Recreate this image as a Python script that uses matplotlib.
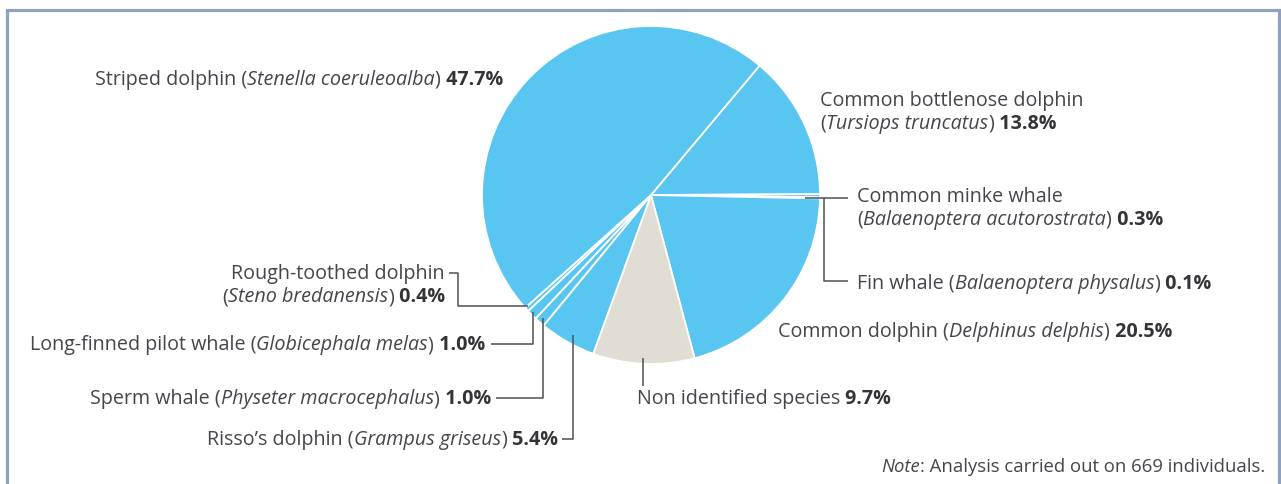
import matplotlib
matplotlib.use("Agg")
import matplotlib.pyplot as plt

W, H = 1281, 484

# species in clockwise order, starting from the bottlenose wedge
species = ["Common bottlenose dolphin", "Common minke whale", "Fin whale",
           "Common dolphin", "Non identified species", "Risso\u2019s dolphin",
           "Sperm whale", "Long-finned pilot whale", "Rough-toothed dolphin",
           "Striped dolphin"]
latin = ["Tursiops truncatus", "Balaenoptera acutorostrata", "Balaenoptera physalus",
         "Delphinus delphis", None, "Grampus griseus", "Physeter macrocephalus",
         "Globicephala melas", "Steno bredanensis", "Stenella coeruleoalba"]
share = [13.8, 0.3, 0.1, 20.5, 9.7, 5.4, 1.0, 1.0, 0.4, 47.7]
n_individuals = 669

BLUE = "#59C5F1"
BEIGE = "#E0DED4"
TXT = "#45454d"
BOLD = "#333338"
LEAD = "#505050"

colors = [BEIGE if l is None else BLUE for l in latin]

# label placement: (x, baseline y from top, align, two lines?)
label_pos = {
    "Common bottlenose dolphin": (820, 106, "left", True),
    "Common minke whale": (857, 202, "left", True),
    "Fin whale": (857, 289, "left", False),
    "Common dolphin": (778, 337, "left", False),
    "Non identified species": (637, 404, "left", False),
    "Risso\u2019s dolphin": (558, 445, "right", False),
    "Sperm whale": (491, 404, "right", False),
    "Long-finned pilot whale": (485, 350, "right", False),
    "Rough-toothed dolphin": (445, 279, "right", True),
    "Striped dolphin": (503, 85, "right", False),
}
leaders = {
    "Common minke whale": [(805, 198), (848, 198)],
    "Fin whale": [(824, 198), (824, 281), (848, 281)],
    "Rough-toothed dolphin": [(449, 273), (458, 273), (458, 306), (528, 306)],
    "Long-finned pilot whale": [(491, 344), (533, 344), (533, 312)],
    "Sperm whale": [(496, 398), (543, 398), (543, 318)],
    "Risso\u2019s dolphin": [(562, 439), (573, 439), (573, 335)],
    "Non identified species": [(643, 358), (643, 386)],
}

fig = plt.figure(figsize=(W / 100, H / 100), dpi=100)
ax = fig.add_axes([0, 0, 1, 1])

ax.pie(share, colors=colors, startangle=50, counterclock=False,
       center=(651, H - 195), radius=169,
       wedgeprops=dict(edgecolor="white", linewidth=1.3))
ax.set_xlim(0, W)
ax.set_ylim(0, H)
ax.set_aspect("auto")
ax.axis("off")

FONT = "Open Sans"
SIZE = 14.2
renderer = fig.canvas.get_renderer()


def draw_line(segs, x, ytop, ha, size=SIZE):
    arts = []
    for s, kind in segs:
        style = "italic" if kind == "i" else "normal"
        weight = "bold" if kind == "b" else "normal"
        col = BOLD if kind == "b" else TXT
        arts.append(ax.text(0, H - ytop, s, family=FONT, size=size,
                            fontstyle=style, fontweight=weight, color=col,
                            ha="left", va="baseline"))
    ws = [a.get_window_extent(renderer).width for a in arts]
    x0 = x - sum(ws) if ha == "right" else x
    for a, w in zip(arts, ws):
        a.set_x(x0)
        x0 += w


for name, lat, pct in zip(species, latin, share):
    x, y, ha, two = label_pos[name]
    val = (" %.1f%%" % pct, "b")
    if lat is None:
        draw_line([(name, "r"), val], x, y, ha)
    elif two:
        draw_line([(name, "r")], x, y, ha)
        draw_line([("(", "r"), (lat, "i"), (")", "r"), val], x, y + 23, ha)
    else:
        draw_line([(name + " (", "r"), (lat, "i"), (")", "r"), val], x, y, ha)

for name, pts in leaders.items():
    xs = [p[0] for p in pts]
    ys = [H - p[1] for p in pts]
    ax.plot(xs, ys, color=LEAD, lw=1.1, solid_capstyle="butt")

draw_line([("Note", "i"),
           (": Analysis carried out on %d individuals." % n_individuals, "r")],
          1265, 472, "right", size=13.3)

# panel frame, open at the bottom
ax.plot([6.5, 6.5, 1278.5, 1278.5], [-5, H - 9.5, H - 9.5, -5],
        color="#8FA2BC", lw=2.3, clip_on=False, solid_joinstyle="miter")

fig.savefig("out.png", dpi=100)
